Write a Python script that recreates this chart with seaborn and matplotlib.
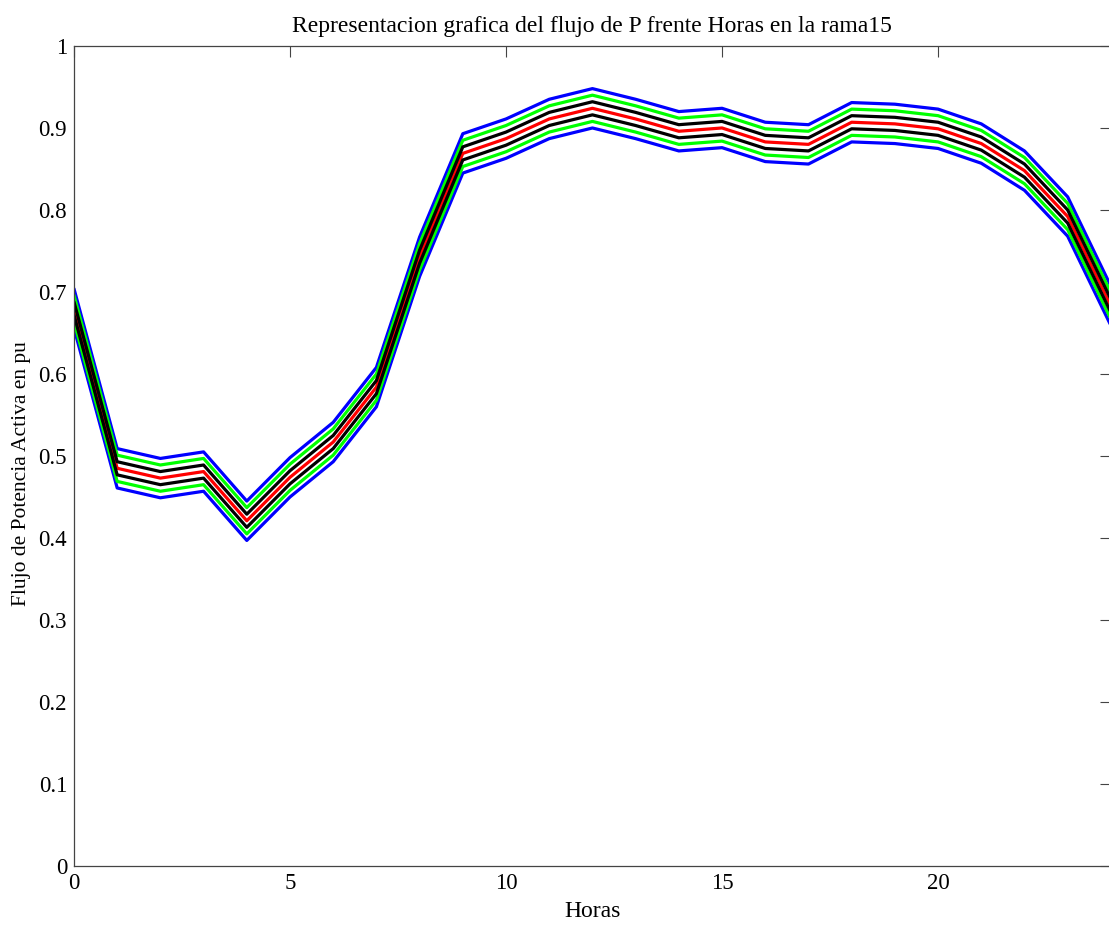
import matplotlib
matplotlib.use('Agg')
import matplotlib.pyplot as plt
import seaborn as sns

# ── data ─────────────────────────────────────────────────────
horas = list(range(25))
rojo = [0.680, 0.485, 0.473, 0.481, 0.421, 0.474, 0.517, 0.584, 0.743, 0.869,
        0.887, 0.911, 0.924, 0.911, 0.896, 0.900, 0.883, 0.880, 0.907, 0.905,
        0.899, 0.881, 0.848, 0.792, 0.683]
negro_sup = [0.688, 0.493, 0.481, 0.489, 0.429, 0.482, 0.525, 0.592, 0.751, 0.877,
             0.895, 0.919, 0.932, 0.919, 0.904, 0.908, 0.891, 0.888, 0.915, 0.913,
             0.907, 0.889, 0.856, 0.800, 0.691]
negro_inf = [0.672, 0.477, 0.465, 0.473, 0.413, 0.466, 0.509, 0.576, 0.735, 0.861,
             0.879, 0.903, 0.916, 0.903, 0.888, 0.892, 0.875, 0.872, 0.899, 0.897,
             0.891, 0.873, 0.840, 0.784, 0.675]
verde_sup = [0.696, 0.501, 0.489, 0.497, 0.437, 0.490, 0.533, 0.600, 0.759, 0.885,
             0.903, 0.927, 0.940, 0.927, 0.912, 0.916, 0.899, 0.896, 0.923, 0.921,
             0.915, 0.897, 0.864, 0.808, 0.699]
verde_inf = [0.664, 0.469, 0.457, 0.465, 0.405, 0.458, 0.501, 0.568, 0.727, 0.853,
             0.871, 0.895, 0.908, 0.895, 0.880, 0.884, 0.867, 0.864, 0.891, 0.889,
             0.883, 0.865, 0.832, 0.776, 0.667]
azul_sup = [0.704, 0.509, 0.497, 0.505, 0.445, 0.498, 0.541, 0.608, 0.767, 0.893,
            0.911, 0.935, 0.948, 0.935, 0.920, 0.924, 0.907, 0.904, 0.931, 0.929,
            0.923, 0.905, 0.872, 0.816, 0.707]
azul_inf = [0.656, 0.461, 0.449, 0.457, 0.397, 0.450, 0.493, 0.560, 0.719, 0.845,
            0.863, 0.887, 0.900, 0.887, 0.872, 0.876, 0.859, 0.856, 0.883, 0.881,
            0.875, 0.857, 0.824, 0.768, 0.659]

series = [(azul_sup, "#0000FF"), (azul_inf, "#0000FF"),
          (verde_sup, "#00FF00"), (verde_inf, "#00FF00"),
          (rojo, "#FF0000"),
          (negro_sup, "#000000"), (negro_inf, "#000000")]

sns.set_style("white")
plt.rcParams['font.family'] = ['Liberation Serif', 'DejaVu Serif']
plt.rcParams['text.color'] = "black"

fig = plt.figure(figsize=(11.09, 9.25), dpi=100)
ax = fig.add_axes([0.0667, 0.0638, 0.935, 0.8865])

for vals, color in series:
    sns.lineplot(x=horas, y=vals, color=color, lw=2.3, ax=ax)

ax.set_xlim(0, 24); ax.set_ylim(0, 1)
ax.set_xticks([0, 5, 10, 15, 20])
ax.set_yticks([i / 10 for i in range(11)])
ax.set_yticklabels(["0", "0.1", "0.2", "0.3", "0.4", "0.5", "0.6", "0.7", "0.8", "0.9", "1"])
ax.tick_params(direction="in", length=8, width=0.8, top=True, right=True,
               labelsize=16.5, colors="#444444", labelcolor="black", pad=5)
for s in ax.spines.values():
    s.set_color("#444444"); s.set_linewidth(0.9); s.set_visible(True)

ax.set_title("Representacion grafica del flujo de P frente Horas en la rama15",
             fontsize=17, pad=10, color="black")
ax.set_xlabel("Horas", fontsize=17, labelpad=5, color="black")
ax.set_ylabel("Flujo de Potencia Activa en pu", fontsize=15.5, color="black")
ax.yaxis.set_label_coords(-0.041, 0.478)

plt.savefig("out.png", dpi=100)
plt.close()
